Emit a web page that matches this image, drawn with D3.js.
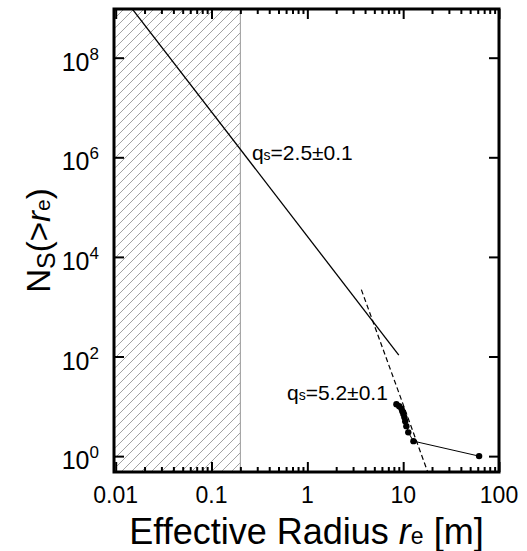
<!DOCTYPE html>
<html>
<head>
<meta charset="utf-8">
<script src="https://cdn.jsdelivr.net/npm/d3@7/dist/d3.min.js"></script>
<style>
body { margin: 0; background: #fff; }
text { font-family: "Liberation Sans", Arial, Helvetica, sans-serif; fill: #000; }
</style>
</head>
<body>
<div id="chart"></div>
<script>
// cumulative counts of boulders vs effective radius
var radius = [8.5, 9.1, 9.6, 9.8, 10.05, 10.3, 10.5, 10.8, 11.3, 12.8, 62];
var countN = [11, 10, 9, 8, 7, 6, 5, 4, 3, 2, 1];

// power-law fits (end points)
var fitShallowR = [0.0138, 9.0];
var fitShallowN = [1.15e9, 107];
var fitSteepR = [3.66, 17.9];
var fitSteepN = [2200, 0.5];

// resolution limit (hatched)
var hatchMaxR = 0.2;

var xTickValues = [0.01, 0.1, 1, 10, 100];
var xTickLabels = ["0.01", "0.1", "1", "10", "100"];
var yTickValues = [1, 1e2, 1e4, 1e6, 1e8];
var yTickExp = ["0", "2", "4", "6", "8"];

var fitLabels = [
    { q: "2.5±0.1", r: 0.264, n: 8.8e5 },
    { q: "5.2±0.1", r: 0.613, n: 13.3 }
];

var margin = { top: 9, right: 28, bottom: 79, left: 114 },
    width = 527 - margin.left - margin.right,
    height = 551 - margin.top - margin.bottom;

var svg = d3.select("#chart")
    .append("svg")
    .attr("width", 527)
    .attr("height", 551)
    .append("g")
    .attr("transform", "translate(" + margin.left + "," + margin.top + ")");

var x = d3.scaleLog().domain([0.0096, 100]).range([0, width]);
var y = d3.scaleLog().domain([0.48, 9.5e8]).range([height, 0]);

var defs = svg.append("defs");
var pat = defs.append("pattern")
    .attr("id", "hatch")
    .attr("patternUnits", "userSpaceOnUse")
    .attr("width", 10)
    .attr("height", 10);
pat.append("path")
    .attr("d", "M-1,1 l2,-2 M0,10 l10,-10 M9,11 l2,-2")
    .attr("stroke", "#8a8a8a")
    .attr("stroke-width", 0.8);
defs.append("clipPath").attr("id", "clip")
    .append("rect").attr("width", width).attr("height", height);

// hatched area
svg.append("rect")
    .attr("x", 0)
    .attr("y", 0)
    .attr("width", x(hatchMaxR))
    .attr("height", height)
    .attr("fill", "url(#hatch)");
svg.append("line")
    .attr("x1", x(hatchMaxR)).attr("x2", x(hatchMaxR))
    .attr("y1", 0).attr("y2", height)
    .attr("stroke", "#999")
    .attr("stroke-width", 1);

var plot = svg.append("g").attr("clip-path", "url(#clip)");
var line = d3.line()
    .x(function (d) { return x(d[0]) })
    .y(function (d) { return y(d[1]) });

plot.append("path")
    .datum(d3.zip(fitShallowR, fitShallowN))
    .attr("d", line)
    .attr("fill", "none")
    .attr("stroke", "#000")
    .attr("stroke-width", 1.3);

plot.append("path")
    .datum(d3.zip(fitSteepR, fitSteepN))
    .attr("d", line)
    .attr("fill", "none")
    .attr("stroke", "#000")
    .attr("stroke-width", 1.2)
    .attr("stroke-dasharray", "5,3");

var pts = d3.zip(radius, countN);
plot.append("path")
    .datum(pts)
    .attr("d", line)
    .attr("fill", "none")
    .attr("stroke", "#000")
    .attr("stroke-width", 1);
plot.selectAll("circle")
    .data(pts)
    .enter()
    .append("circle")
    .attr("cx", function (d) { return x(d[0]) })
    .attr("cy", function (d) { return y(d[1]) })
    .attr("r", 3.2)
    .attr("fill", "#000");

// fit labels
fitLabels.forEach(function (f) {
    var t = svg.append("text")
        .attr("x", x(f.r))
        .attr("y", y(f.n))
        .style("font-size", "21px");
    t.append("tspan").text("q");
    t.append("tspan").text("s").style("font-size", "14px");
    t.append("tspan").text("=" + f.q);
});

// ticks (inward) on all four sides
var minorTicks = x.ticks().filter(function (d) { return xTickValues.indexOf(d) < 0 });
function tickAxis(axis, vals, len, tr) {
    var g = svg.append("g")
        .attr("transform", tr)
        .call(axis.tickValues(vals).tickSize(-len).tickFormat(""));
    g.select(".domain").remove();
    g.selectAll(".tick line").attr("stroke", "#000").attr("stroke-width", 2);
    return g;
}
tickAxis(d3.axisBottom(x), minorTicks, 5, "translate(0," + height + ")");
tickAxis(d3.axisBottom(x), xTickValues, 10, "translate(0," + height + ")");
tickAxis(d3.axisTop(x), minorTicks, 5, "translate(0,0)");
tickAxis(d3.axisTop(x), xTickValues, 10, "translate(0,0)");
tickAxis(d3.axisLeft(y), yTickValues, 10, "translate(0,0)");
tickAxis(d3.axisRight(y), yTickValues, 10, "translate(" + width + ",0)");

// frame
svg.append("rect")
    .attr("width", width)
    .attr("height", height)
    .attr("fill", "none")
    .attr("stroke", "#000")
    .attr("stroke-width", 3);

// tick labels
svg.selectAll(".xlab")
    .data(xTickValues)
    .enter()
    .append("text")
    .attr("class", "xlab")
    .attr("x", function (d) { return x(d) })
    .attr("y", height + 31)
    .attr("text-anchor", "middle")
    .style("font-size", "23px")
    .text(function (d, i) { return xTickLabels[i] });

yTickValues.forEach(function (v, i) {
    var t = svg.append("text")
        .attr("x", -15)
        .attr("y", y(v) + 13)
        .attr("text-anchor", "end")
        .style("font-size", "25px");
    t.append("tspan").text("10");
    t.append("tspan").attr("dy", -11).style("font-size", "17px").text(yTickExp[i]);
});

// axis titles
var xt = svg.append("text")
    .attr("x", width / 2)
    .attr("y", height + 72)
    .attr("text-anchor", "middle")
    .style("font-size", "36px");
xt.append("tspan").text("Effective Radius ");
xt.append("tspan").style("font-style", "italic").text("r");
xt.append("tspan").style("font-size", "23px").text("e");
xt.append("tspan").text(" [m]");

var yt = svg.append("text")
    .attr("transform", "translate(" + (50 - margin.left) + "," + (height / 2) + ") rotate(-90)")
    .attr("text-anchor", "middle")
    .style("font-size", "33px");
yt.append("tspan").text("N");
yt.append("tspan").attr("dy", 5).style("font-size", "25px").text("S");
yt.append("tspan").attr("dy", -5).text("(>");
yt.append("tspan").style("font-style", "italic").text("r");
yt.append("tspan").style("font-size", "21px").text("e");
yt.append("tspan").text(")");
</script>
</body>
</html>
